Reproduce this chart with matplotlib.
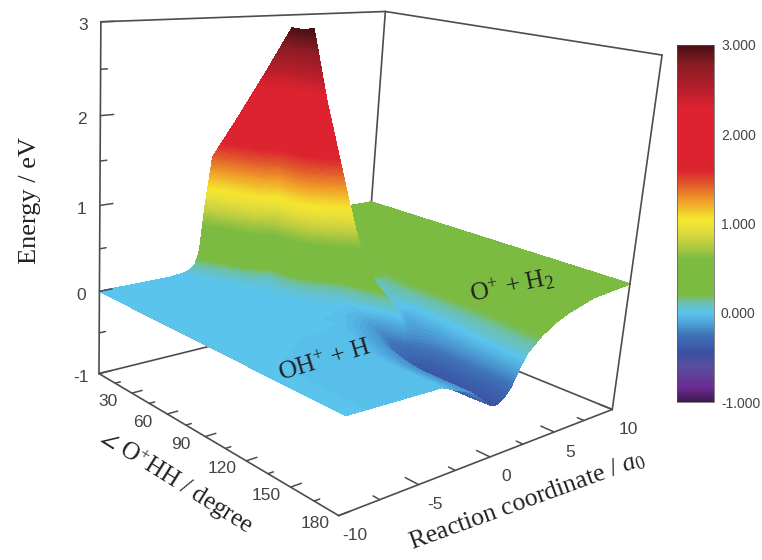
import numpy as np
import matplotlib
matplotlib.use('Agg')
import matplotlib.pyplot as plt
from matplotlib.colors import LinearSegmentedColormap, Normalize
from matplotlib.cm import ScalarMappable

plt.rcParams['mathtext.fontset'] = 'custom'
plt.rcParams['mathtext.rm'] = 'Liberation Serif'
plt.rcParams['mathtext.it'] = 'Liberation Serif:italic'
plt.rcParams['mathtext.default'] = 'rm'

# energy table, one row per angle
# columns are measured from the ridge, whose position changes with the angle
angles = [0, 2.5, 5, 15, 30, 37, 45, 52, 60, 75, 90, 105, 120, 135, 150, 165, 180]
ridge = [-3.4, -3.3, -3.1, -2.5, -1.7, -.8, -.8, -.7, -.3, 1, 1, 1.2, .6, .2, 0, 0, 0]
offsets = [-20, -4, -2, -1, -.6, -.3, 0, .3, .6, 1, 1.5, 2, 3, 4, 5, 7, 20]
energy = [
    [0, 0, 0, .02, .05, .10, .20, .35, .45, .50, .50, .50, .50, .50, .50, .50, .50],
    [0, 0, 0, .02, .07, .30, .85, .80, .70, .60, .55, .50, .50, .50, .50, .50, .50],
    [0, 0, 0, .02, .10, .60, 1.42, 1.3, 1.1, .90, .70, .60, .50, .50, .50, .50, .50],
    [0, 0, .01, .02, .10, .80, 1.85, 1.75, 1.6, 1.3, 1.0, .80, .60, .45, .45, .50, .50],
    [0, 0, .01, .02, .12, 1.1, 2.5, 2.4, 2.2, 1.8, 1.3, 1.0, .55, .30, .35, .50, .50],
    [0, 0, .01, .03, .12, 1.3, 2.97, 2.8, 2.4, 1.9, 1.4, 1.0, .45, .20, .28, .48, .50],
    [0, 0, .01, .03, .12, 1.3, 2.97, 2.8, 2.4, 1.9, 1.4, 1.0, .35, .15, .25, .45, .50],
    [0, 0, .01, .03, .12, 1.3, 3.0, 2.8, 2.4, 1.9, 1.3, .90, .30, .12, .25, .45, .50],
    [0, 0, .01, .03, .12, 1.0, 2.24, 2.0, 1.7, 1.3, .90, .60, .15, .10, .25, .45, .50],
    [0, .01, .02, .05, .15, .35, .72, .60, .45, .25, .08, .07, .25, .42, .47, .50, .50],
    [0, 0, -.03, -.05, .02, .10, .27, .15, .10, .02, .05, .12, .30, .42, .47, .50, .50],
    [0, -.01, -.12, -.20, -.14, -.04, .05, -.02, -.08, -.08, 0, .15, .32, .42, .47, .50, .50],
    [0, -.02, -.14, -.28, -.32, -.30, -.26, -.22, -.18, -.14, -.08, .02, .25, .40, .46, .50, .50],
    [0, -.03, -.16, -.32, -.38, -.41, -.41, -.39, -.35, -.26, -.14, -.03, .16, .33, .42, .49, .50],
    [0, -.03, -.18, -.33, -.39, -.42, -.43, -.42, -.38, -.30, -.16, -.02, .15, .30, .38, .47, .50],
    [0, -.03, -.18, -.33, -.39, -.42, -.43, -.41, -.37, -.30, -.13, .02, .18, .30, .37, .47, .50],
    [0, -.03, -.18, -.32, -.38, -.41, -.42, -.40, -.36, -.28, -.10, .05, .20, .30, .37, .46, .50],
]

angle_ticks = [30, 60, 90, 120, 150, 180]
coord_ticks = [-10, -5, 0, 5, 10]
energy_ticks = [-1, 0, 1, 2, 3]
bar_ticks = [-1, 0, 1, 2, 3]

# colour stops taken from the colour bar
bar_values = [-1, -.85, -.6, -.45, -.25, -.1, 0, .12, .2, .6, .8, .95, 1.05, 1.25, 1.45, 1.6, 2.3, 2.5, 2.77, 3]
bar_colors = ['#3a1a50', '#6b2a90', '#5a4f9e', '#3a50a2', '#3f73b8', '#4fa8dc', '#5bc4ee', '#6cc0a8',
              '#7cbb42', '#7cbb42', '#c5cf3f', '#e8e03a', '#f5e62e', '#f0a02a', '#e0552b', '#dd2230',
              '#dd2230', '#b81e2a', '#8a1c24', '#4a0f14']

# where known points of the box sit in the picture: (angle, coord, energy) -> pixel
calib = [
    ((0, -10, -1), (100, 375)), ((0, -10, 0), (100, 292)), ((0, -10, 1), (100, 205)),
    ((0, -10, 2), (100, 116)), ((0, -10, 3), (100, 21)), ((0, 10, 3), (387, 12)),
    ((180, 10, 3), (661, 55)), ((180, 10, -1), (615, 410)), ((180, -10, -1), (339, 518)),
    ((0, 10, -1), (362, 308)), ((180, 0, -1), (490, 455)), ((180, 5, -1), (553, 432)),
    ((180, -5, -1), (415, 485)), ((30, -10, -1), (130, 392)), ((90, -10, -1), (207, 435)),
    ((150, -10, -1), (293, 487)),
]


def scale_world(a, r, e):
    return np.asarray(a, float) / 180, np.asarray(r, float) / 10, np.asarray(e, float) / 3


def fit_camera():
    rows, rhs = [], []
    for (a, r, e), (u, v) in calib:
        x, y, z = scale_world(a, r, e)
        rows.append([x, y, z, 1, 0, 0, 0, 0, -u * x, -u * y, -u * z])
        rows.append([0, 0, 0, 0, x, y, z, 1, -v * x, -v * y, -v * z])
        rhs += [u, v]
    return np.linalg.lstsq(np.array(rows), np.array(rhs), rcond=None)[0]


cam = fit_camera()


def project(a, r, e):
    x, y, z = scale_world(a, r, e)
    w = cam[8] * x + cam[9] * y + cam[10] * z + 1
    u = (cam[0] * x + cam[1] * y + cam[2] * z + cam[3]) / w
    v = (cam[4] * x + cam[5] * y + cam[6] * z + cam[7]) / w
    return u, v


def seg(a1, r1, e1, a2, r2, e2, z=3, lw=1.2):
    p, q = project(a1, r1, e1), project(a2, r2, e2)
    ax.plot([p[0], q[0]], [p[1], q[1]], color='#4d4d4d', lw=lw, zorder=z, solid_capstyle='round')


fig = plt.figure(figsize=(7.62, 5.6), dpi=100)
ax = fig.add_axes([0, 0, 1, 1])

cmap = LinearSegmentedColormap.from_list('bar', [((v + 1) / 4, c) for v, c in zip(bar_values, bar_colors)], N=512)
norm = Normalize(-1, 3)
levels = np.arange(-1.0125, 3.2, .02515625)

# box, the back lines go under the surface
seg(0, -10, -1, 0, -10, 3)
seg(0, -10, 3, 0, 10, 3)
seg(0, 10, 3, 180, 10, 3)
seg(180, 10, 3, 180, 10, -1)
seg(0, 10, 3, 0, 10, -1, z=0.5)
seg(0, -10, -1, 0, 10, -1, z=0.5)
seg(180, 10, -1, 0, 10, -1, z=0.5)
seg(0, -10, -1, 180, -10, -1)
seg(180, -10, -1, 180, 10, -1)

# ticks
for e in np.arange(-1, 3.01, .5):
    seg(0, -10, e, 0, -10 + (.8 if e == int(e) else .4), e, lw=1.1)
for a in np.arange(15, 181, 15):
    seg(a, -10, -1, a, -10 + (.65 if a % 30 == 0 else .33), -1, lw=1.1)
for r in np.arange(-7.5, 10.1, 2.5):
    seg(180, r, -1, 180 - (8 if r % 5 == 0 else 4), r, -1, lw=1.1)

# surface, painted strip by strip from the far side, back of the ridge first
E = np.array(energy)
R = np.clip(np.array(ridge)[:, None] + np.array(offsets), -10, 10)
k = offsets.index(0)
n = len(offsets)
for i in range(len(angles) - 1):
    for part in (np.arange(k, n), np.arange(0, k + 1)):
        aa = np.array([[angles[i]] * len(part), [angles[i + 1]] * len(part)], float)
        rr = R[i:i + 2][:, part]
        zz = E[i:i + 2][:, part]
        px, py = project(aa, rr, zz)
        cs = ax.contourf(px, py, zz, levels=levels, cmap=cmap, norm=norm, zorder=1 + i * .01)
        cs.set_edgecolor('face')
        cs.set_linewidth(.35)

# tick labels
tick_font = dict(family='Liberation Sans', fontsize=12.5, color='#444444', ha='center', va='center')
for e in energy_ticks:
    u, v = project(0, -10, e)
    ax.text(u - 18, v + 4, str(e), **tick_font)
for a in angle_ticks:
    u, v = project(a, -10, -1)
    ax.text(u - 24, v + 8, str(a), **tick_font)
for r in coord_ticks:
    u, v = project(180, r, -1)
    ax.text(u + 16, v + 20, str(r), **tick_font)

serif = dict(family='Liberation Serif', color='#222222', ha='center', va='center', rotation_mode='anchor')
ax.text(30, 200, 'Energy / eV', fontsize=19, rotation=90, **serif)
ax.text(176, 482, r'$\angle$ O$^{+}$HH / degree', fontsize=18, rotation=-32, **serif)
ax.text(527, 501, r'Reaction coordinate / $\mathit{a}_{0}$', fontsize=18.5, rotation=20, **serif)
ax.text(325, 361, r'OH$^{+}$ + H', fontsize=18.5, rotation=17, **serif)
ax.text(512, 286, r'O$^{+}$ + H$_{2}$', fontsize=18.5, rotation=12, **serif)

ax.set_xlim(0, 762)
ax.set_ylim(560, 0)
ax.axis('off')

# colour bar
cax = fig.add_axes([677 / 762, 1 - 402 / 560, 37 / 762, 357 / 560])
cb = fig.colorbar(ScalarMappable(norm=norm, cmap=cmap), cax=cax, ticks=bar_ticks, format='%.3f')
cb.ax.tick_params(length=0, pad=5, labelsize=10, labelcolor='#444444')
for t in cb.ax.get_yticklabels():
    t.set_family('Liberation Sans')
cb.outline.set_linewidth(.5)
cb.outline.set_edgecolor('#555555')

fig.savefig('out.png', dpi=100)
